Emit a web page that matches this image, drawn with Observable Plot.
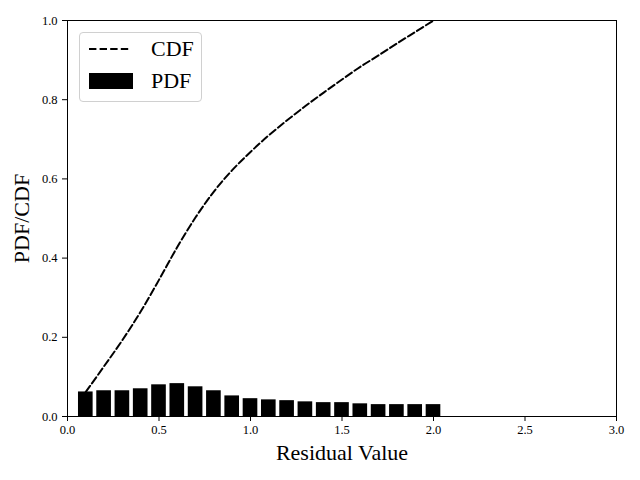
<!DOCTYPE html>
<html>
<head>
<meta charset="utf-8">
<script src="https://cdn.jsdelivr.net/npm/d3@7"></script>
<script src="https://cdn.jsdelivr.net/npm/@observablehq/plot@0.6"></script>
<style>
  html, body { margin: 0; padding: 0; background: #fff; }
  #wrap { position: relative; width: 640px; height: 480px; font-family: "Liberation Serif", "DejaVu Serif", serif; }
  #wrap svg { font-family: "Liberation Serif", "DejaVu Serif", serif; }
  #wrap svg [aria-label="x-axis label"] text, #wrap svg [aria-label="y-axis label"] text { font-size: 22px; }
  #legend { position: absolute; left: 79px; top: 32px; width: 123px; height: 70px; border: 1px solid #d0d0d0; border-radius: 4px; background: rgba(255,255,255,0.8); box-sizing: border-box; font-size: 22px; }
  #legend .row { position: absolute; left: 0; height: 26px; width: 100%; }
  #legend .lab { position: absolute; left: 71px; top: 0; line-height: 26px; }
</style>
</head>
<body>
<div id="wrap"></div>
<script>
const residual = [0.1,0.2,0.3,0.4,0.5,0.6,0.7,0.8,0.9,1.0,1.1,1.2,1.3,1.4,1.5,1.6,1.7,1.8,1.9,2.0];
const pdf = [0.062,0.065,0.065,0.070,0.080,0.083,0.075,0.065,0.052,0.045,0.042,0.040,0.037,0.035,0.035,0.032,0.030,0.030,0.030,0.030];
const cdf = [0.062,0.127,0.193,0.265,0.345,0.428,0.503,0.568,0.622,0.668,0.710,0.748,0.784,0.818,0.851,0.883,0.912,0.942,0.971,1.000];
const xTicks = [0,0.5,1.0,1.5,2.0,2.5,3.0];
const yTicks = [0,0.2,0.4,0.6,0.8,1.0];
const barWidth = 0.08;

const rows = residual.map((x, i) => ({x, pdf: pdf[i], cdf: cdf[i]}));

const chart = Plot.plot({
  width: 640,
  height: 480,
  marginLeft: 67,
  marginRight: 24,
  marginTop: 20,
  marginBottom: 64,
  style: {fontFamily: "Liberation Serif", fontSize: "12.5px", color: "black", background: "white"},
  x: {domain: [0, 3]},
  y: {domain: [0, 1]},
  marks: [
    Plot.rectY(rows, {x1: d => d.x - barWidth / 2, x2: d => d.x + barWidth / 2, y: "pdf", fill: "black"}),
    Plot.line(rows, {x: "x", y: "cdf", stroke: "black", strokeWidth: 2, strokeDasharray: "7.4,3.2", curve: "monotone-x"}),
    Plot.frame({stroke: "black", strokeWidth: 1}),
    Plot.axisX({ticks: xTicks, tickFormat: d3.format(".1f"), tickSize: 5, tickPadding: 4, fontSize: 12.5,
      label: "Residual Value", labelAnchor: "center", labelArrow: "none", labelOffset: 43}),
    Plot.axisY({ticks: yTicks, tickFormat: d3.format(".1f"), tickSize: 5, tickPadding: 5, fontSize: 12.5,
      label: "PDF/CDF", labelAnchor: "center", labelArrow: "none", labelOffset: 54})
  ]
});
document.getElementById("wrap").appendChild(chart);

const legend = document.createElement("div");
legend.id = "legend";
legend.innerHTML = `
  <div class="row" style="top:3px"><svg width="60" height="26" style="position:absolute;left:8px;top:0"><line x1="1" y1="13" x2="42" y2="13" stroke="black" stroke-width="2" stroke-dasharray="7.4,3.2"/></svg><span class="lab">CDF</span></div>
  <div class="row" style="top:35px"><svg width="60" height="26" style="position:absolute;left:8px;top:0"><rect x="1" y="5" width="44" height="16" fill="black"/></svg><span class="lab">PDF</span></div>`;
document.getElementById("wrap").appendChild(legend);
</script>
</body>
</html>
